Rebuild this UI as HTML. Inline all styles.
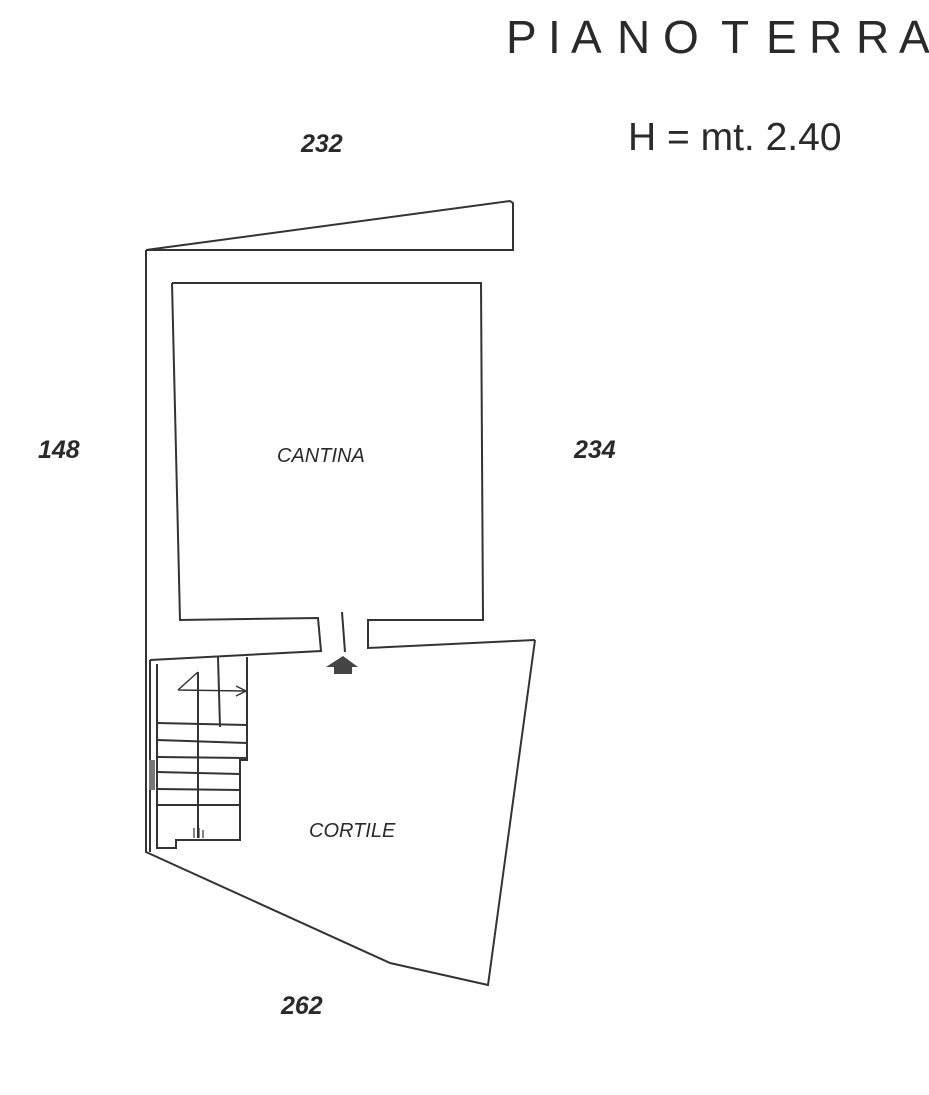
<!DOCTYPE html>
<html><head><meta charset="utf-8"><style>
html,body{margin:0;padding:0;background:#fff;}
svg{display:block}
</style></head><body>
<svg width="929" height="1095" viewBox="0 0 929 1095" xmlns="http://www.w3.org/2000/svg">
<g font-family="Liberation Sans, sans-serif" fill="#2a2a2a" font-size="46">
<text x="506" y="53">P</text><text x="548" y="53">I</text><text x="571" y="53">A</text><text x="617" y="53">N</text><text x="663" y="53">O</text><text x="721" y="53">T</text><text x="766" y="53">E</text><text x="809" y="53">R</text><text x="856" y="53">R</text><text x="899" y="53">A</text>
</g>
<text x="628" y="150" font-family="Liberation Sans, sans-serif" font-size="39" fill="#2a2a2a">H = mt. 2.40</text>
<g font-family="Liberation Sans, sans-serif" font-style="italic" font-weight="bold" font-size="25" fill="#2a2a2a">
<text x="301" y="152">232</text>
<text x="38" y="458">148</text>
<text x="574" y="458">234</text>
<text x="281" y="1014">262</text>
</g>
<g font-family="Liberation Sans, sans-serif" font-style="italic" font-size="20" fill="#2a2a2a">
<text x="277" y="462">CANTINA</text>
<text x="309" y="837">CORTILE</text>
</g>
<g fill="none" stroke="#333" stroke-width="2">
<path d="M146,250 L510,201 L513,203 L513,250 L146,250"/>
<path d="M146,250 L146,852 L390,963 L488,985 L535,640"/>
<path d="M172,283 L481,283 L483,620 L368,620 L368,648 L535,640"/>
<path d="M172,283 L180,620 L318,618 L321,651 L150,660"/>
<path d="M342,612 L345,652"/>
<path d="M150,660 L150,852"/>
<path d="M157,664 L157,848 L176,848 L176,840 L240,840 L240,760 L247,760 L247,657"/>
<path d="M218,657 L220,727"/>
<path d="M198,672 L198,838"/>
<path d="M157,723 L247,725 M157,740 L247,743 M157,757 L247,758 M157,772 L240,774 M157,789 L240,790 M157,805 L240,805"/>
<path d="M178,690 L198,672 M178,690 L245,691" stroke-width="1.5"/>
<path d="M236,686 L246,691 L236,696" stroke-width="1.5"/>
<path d="M194,838 L194,828 M199,838 L199,828 M203,838 L203,830" stroke-width="1.2"/>
</g>
<rect x="149" y="760" width="6" height="30" fill="#777"/>
<path d="M326,667 L343,656 L358,667 L352,667 L352,674 L334,674 L334,667 Z" fill="#444"/>
</svg>
</body></html>
